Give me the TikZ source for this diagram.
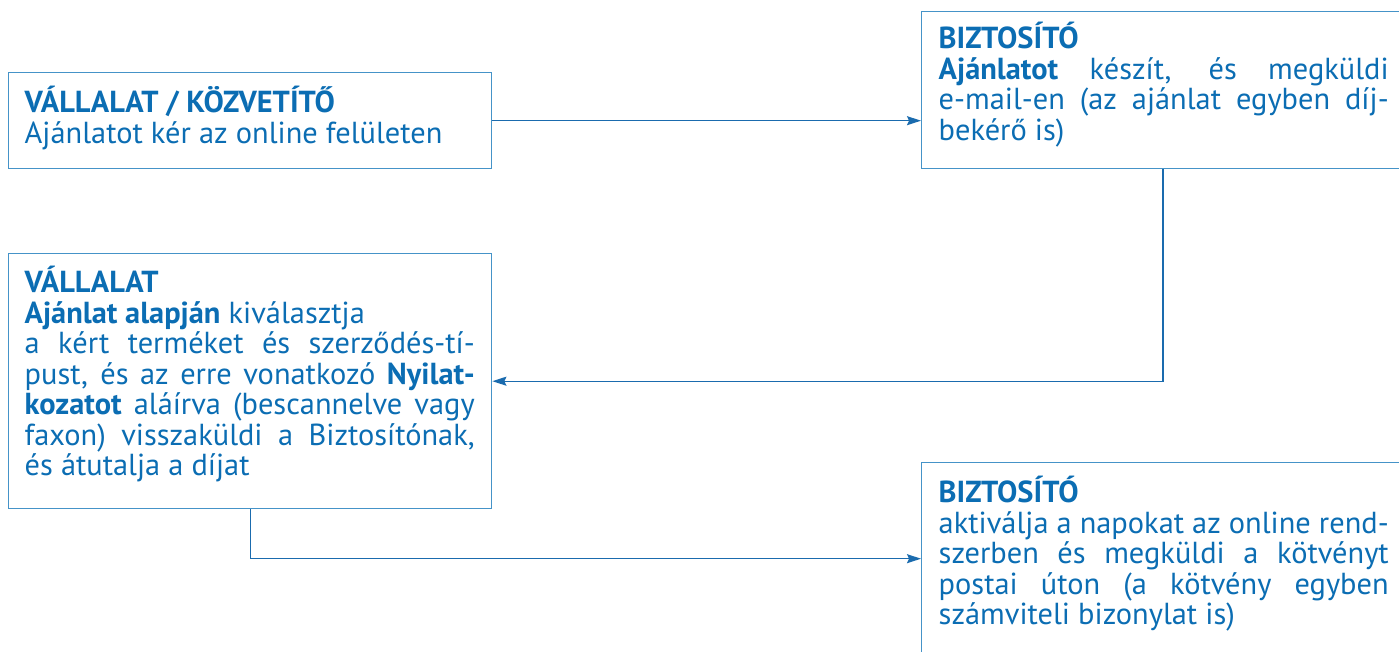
\documentclass[tikz,border=0pt]{standalone}
\usepackage{fontspec}
\setmainfont{PT Sans}
\usetikzlibrary{arrows.meta}
\definecolor{txtblue}{HTML}{0B6DB3}
\definecolor{boxblue}{HTML}{4593C8}
\definecolor{lineblue}{HTML}{1A6BAE}
\newlength\jw
\setlength\jw{450pt}
\newcommand\jl[1]{\makebox[\jw][s]{#1}\\}
\newcommand\boxtext[4]{\parbox[c][#1][t]{#2}{\fontsize{30.4pt}{30.5pt}\selectfont\raggedright\color{txtblue}\rule{0pt}{#3}#4}}
\tikzset{
  flowbox/.style={draw=boxblue, line width=1.4pt, inner ysep=0pt, anchor=north west, text=txtblue},
  conn/.style={draw=lineblue, line width=1.4pt, -{Stealth[length=14pt,width=9pt,inset=2pt]}}
}
\begin{document}
\begin{tikzpicture}[x=1pt,y=-1pt]
\useasboundingbox (0,0) rectangle (1399,652);
\node[flowbox, inner xsep=16pt] (A) at (8,72) {\boxtext{96pt}{451pt}{40pt}{%
\textbf{VÁLLALAT / KÖZVETÍTŐ}\\
Ajánlatot kér az online felületen}};
\node[flowbox, inner xsep=17pt] (B) at (921,11) {\boxtext{157pt}{455pt}{37pt}{%
\textbf{BIZTOSÍTÓ}\\
\jl{\textbf{Ajánlatot} készít, és megküldi}
\jl{e-mail-en (az ajánlat egyben díj-}
bekérő is)}};
\node[flowbox, inner xsep=16pt] (C) at (8,253) {\boxtext{255pt}{451pt}{39pt}{%
\textbf{VÁLLALAT}\\
\textbf{Ajánlat alapján} kiválasztja\\
\jl{a kért terméket és szerződés-tí-}
\jl{pust, és az erre vonatkozó \textbf{Nyilat-}}
\jl{\textbf{kozatot} aláírva (bescannelve vagy}
\jl{faxon) visszaküldi a Biztosítónak,}
és átutalja a díjat}};
\node[flowbox, inner xsep=17pt] (D) at (921,462) {\boxtext{192pt}{455pt}{40pt}{%
\textbf{BIZTOSÍTÓ}\\
\jl{aktiválja a napokat az online rend-}
\jl{szerben és megküldi a kötvényt}
\jl{postai úton (a kötvény egyben}
számviteli bizonylat is)}};
\draw[conn] (A.east) -- (A.east -| B.west);
\draw[conn] ([xshift=242pt]B.south west) |- (C.east);
\draw[conn] (C.south) |- (D.west);
\end{tikzpicture}
\end{document}
